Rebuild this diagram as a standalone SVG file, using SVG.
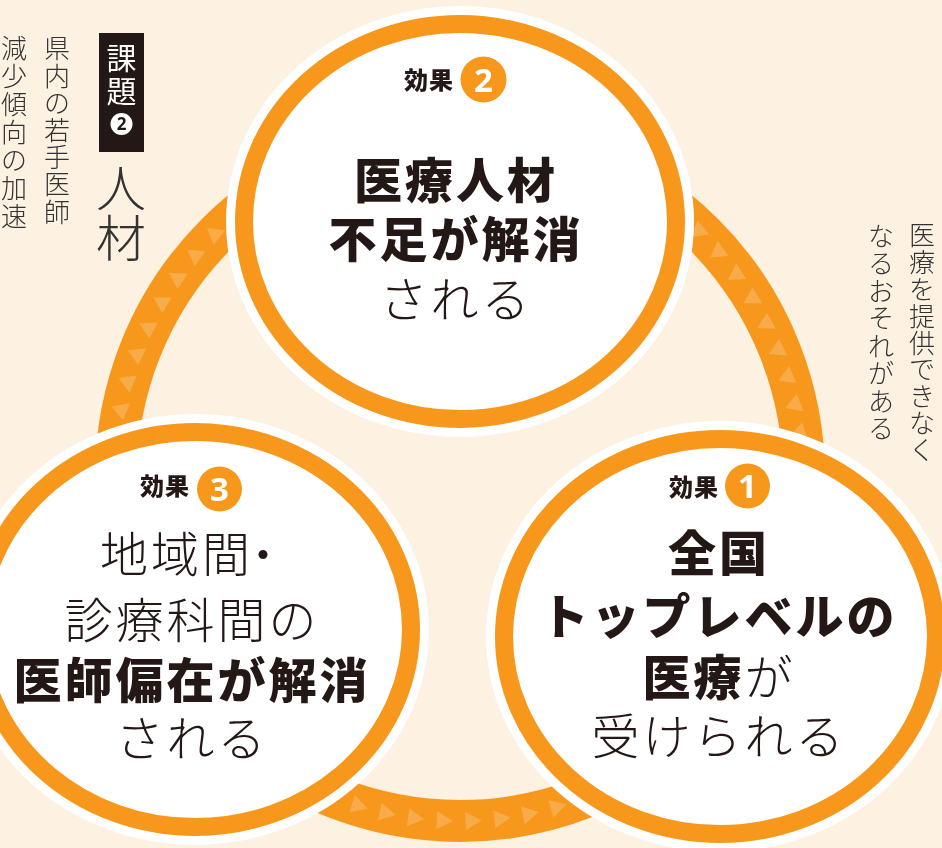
<svg xmlns="http://www.w3.org/2000/svg" xmlns:xlink="http://www.w3.org/1999/xlink" width="942" height="848" viewBox="0 0 942 848">
<style>
.jp{font-family:"Noto Sans CJK JP","Noto Sans CJK SC",sans-serif;fill:#231815}
.b{font-weight:900;font-size:48px;text-anchor:middle;letter-spacing:3px}
.r{font-weight:300;font-size:48px;text-anchor:middle;letter-spacing:3px}
.lbl{font-weight:900;font-size:24px;text-anchor:middle;letter-spacing:1px}
.num{font-family:"Noto Sans","Open Sans",sans-serif;font-weight:700;font-size:33px;fill:#fff;text-anchor:middle}
.v{font-weight:300;font-size:26px;text-anchor:middle;fill:#333}
.ring{fill:none;stroke:#F7981C;stroke-width:42}
.tri{fill:#fff;opacity:0.2}
.outer{fill:#fff}
.inner{fill:#fff;stroke:#F7981C;stroke-width:18}
.badge{fill:#F7981C}
</style>
<defs>
<polygon id="tri" points="9,0 -7,-9 -7,9"/>
</defs>
<rect width="942" height="848" fill="#FDF1E2"/>

<g id="connectors">
<circle class="ring" cx="460" cy="477" r="344"/>
<g class="tri">
<use xlink:href="#tri" transform="translate(118.3 437.5) rotate(-41.7)"/>
<use xlink:href="#tri" transform="translate(122.8 409) rotate(-39.3)"/>
<use xlink:href="#tri" transform="translate(129.7 381) rotate(-36.9)"/>
<use xlink:href="#tri" transform="translate(138.8 353.7) rotate(-34.5)"/>
<use xlink:href="#tri" transform="translate(150.3 327.3) rotate(-32.1)"/>
<use xlink:href="#tri" transform="translate(163.9 301.9) rotate(-29.7)"/>
<use xlink:href="#tri" transform="translate(179.6 277.7) rotate(-27.3)"/>
<use xlink:href="#tri" transform="translate(197.3 255) rotate(-24.9)"/>
<use xlink:href="#tri" transform="translate(216.8 233.8) rotate(-22.5)"/>
<use xlink:href="#tri" transform="translate(238 214.3) rotate(-20.1)"/>
<use xlink:href="#tri" transform="translate(803.7 462.6) rotate(43.8)"/>
<use xlink:href="#tri" transform="translate(801.3 433.9) rotate(41.4)"/>
<use xlink:href="#tri" transform="translate(796.5 405.5) rotate(39)"/>
<use xlink:href="#tri" transform="translate(789.3 377.6) rotate(36.6)"/>
<use xlink:href="#tri" transform="translate(779.8 350.4) rotate(34.2)"/>
<use xlink:href="#tri" transform="translate(768.1 324) rotate(31.8)"/>
<use xlink:href="#tri" transform="translate(754.2 298.8) rotate(29.4)"/>
<use xlink:href="#tri" transform="translate(738.3 274.8) rotate(27)"/>
<use xlink:href="#tri" transform="translate(720.4 252.2) rotate(24.6)"/>
<use xlink:href="#tri" transform="translate(700.7 231.2) rotate(22.2)"/>
<use xlink:href="#tri" transform="translate(679.3 211.9) rotate(19.8)"/>
<use xlink:href="#tri" transform="translate(331.7 796.2) rotate(21.9)"/>
<use xlink:href="#tri" transform="translate(358.9 805.8) rotate(17.1)"/>
<use xlink:href="#tri" transform="translate(386.7 813.1) rotate(12.3)"/>
<use xlink:href="#tri" transform="translate(415.1 818.1) rotate(7.5)"/>
<use xlink:href="#tri" transform="translate(443.8 820.6) rotate(2.7)"/>
<use xlink:href="#tri" transform="translate(472.6 820.8) rotate(-2.1)"/>
<use xlink:href="#tri" transform="translate(501.3 818.5) rotate(-6.9)"/>
<use xlink:href="#tri" transform="translate(529.8 813.9) rotate(-11.7)"/>
<use xlink:href="#tri" transform="translate(557.7 806.8) rotate(-16.5)"/>
<use xlink:href="#tri" transform="translate(585 797.5) rotate(-21.3)"/>
</g>
</g>

<g id="effect2">
<ellipse class="outer" cx="460" cy="221.5" rx="234" ry="215.5"/>
<ellipse class="inner" cx="460" cy="221.5" rx="216" ry="197.5"/>
<text class="jp lbl" x="429" y="89">効果</text>
<circle class="badge" cx="483.5" cy="79.5" r="23"/>
<text class="num" x="483.5" y="91.5">2</text>
<text class="jp b" x="456" y="198">医療人材</text>
<text class="jp b" x="456" y="257">不足が解消</text>
<text class="jp r" x="456" y="317">される</text>
</g>

<g id="effect3">
<ellipse class="outer" cx="195" cy="629.5" rx="234" ry="215.5"/>
<ellipse class="inner" cx="195" cy="629.5" rx="216" ry="197.5"/>
<text class="jp lbl" x="165" y="495">効果</text>
<circle class="badge" cx="219.5" cy="489" r="22.5"/>
<text class="num" x="219.5" y="501">3</text>
<text class="jp r" x="100" y="572" style="text-anchor:start">地域間<tspan dx="-14">・</tspan></text>
<text class="jp r" x="192" y="638">診療科間の</text>
<text class="jp b" x="192" y="698">医師偏在が解消</text>
<text class="jp r" x="192" y="756">される</text>
</g>

<g id="effect1">
<ellipse class="outer" cx="720" cy="636.5" rx="234" ry="215.5"/>
<ellipse class="inner" cx="720" cy="636.5" rx="216" ry="197.5"/>
<text class="jp lbl" x="694" y="496">効果</text>
<circle class="badge" cx="747.5" cy="486" r="22.5"/>
<text class="num" x="747.5" y="498">1</text>
<text class="jp b" x="719" y="571">全国</text>
<text class="jp b" x="719" y="634">トップレベルの</text>
<text class="jp r" x="719" y="695"><tspan style="font-weight:900">医療</tspan>が</text>
<text class="jp r" x="719" y="754">受けられる</text>
</g>

<g id="issue2">
<rect x="99" y="33" width="45" height="119" fill="#231815"/>
<text class="jp" style="font-size:30px;font-weight:400;fill:#fff;text-anchor:middle"><tspan x="121.5" y="69">課</tspan><tspan x="121.5" y="102">題</tspan></text>
<circle cx="121.5" cy="124" r="11" fill="#fff"/>
<text x="121.5" y="130" style="font-family:'Noto Sans',sans-serif;font-weight:700;font-size:17px;fill:#231815;text-anchor:middle">2</text>
<text class="jp" style="font-size:50px;font-weight:300;fill:#333;text-anchor:middle"><tspan x="121" y="207">人</tspan><tspan x="121" y="256.5">材</tspan></text>
<text class="jp v"><tspan x="57" y="58.4">県</tspan><tspan x="57" y="85.6">内</tspan><tspan x="57" y="112.8">の</tspan><tspan x="57" y="140">若</tspan><tspan x="57" y="167.2">手</tspan><tspan x="57" y="194.4">医</tspan><tspan x="57" y="221.6">師</tspan></text>
<text class="jp v"><tspan x="14" y="57.9">減</tspan><tspan x="14" y="85.9">少</tspan><tspan x="14" y="113.9">傾</tspan><tspan x="14" y="141.9">向</tspan><tspan x="14" y="169.9">の</tspan><tspan x="14" y="197.9">加</tspan><tspan x="14" y="225.9">速</tspan></text>
</g>

<g id="issue-note">
<text class="jp v"><tspan x="922" y="244.9">医</tspan><tspan x="922" y="271.8">療</tspan><tspan x="922" y="298.7">を</tspan><tspan x="922" y="325.6">提</tspan><tspan x="922" y="352.5">供</tspan><tspan x="922" y="379.4">で</tspan><tspan x="922" y="406.3">き</tspan><tspan x="922" y="433.2">な</tspan><tspan x="922" y="460.1">く</tspan></text>
<text class="jp v"><tspan x="881" y="245.9">な</tspan><tspan x="881" y="273.4">る</tspan><tspan x="881" y="300.9">お</tspan><tspan x="881" y="328.4">そ</tspan><tspan x="881" y="355.9">れ</tspan><tspan x="881" y="383.4">が</tspan><tspan x="881" y="410.9">あ</tspan><tspan x="881" y="438.4">る</tspan></text>
</g>
</svg>
